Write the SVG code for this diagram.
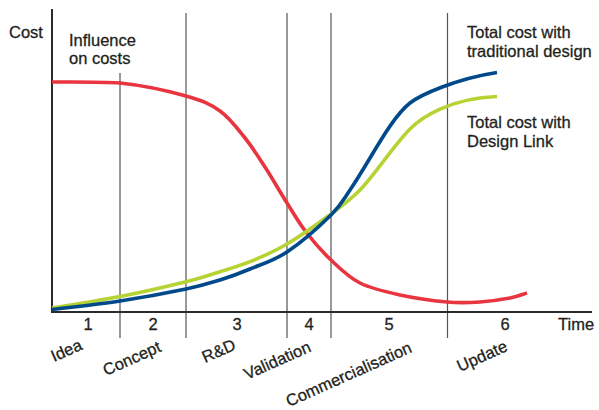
<svg xmlns="http://www.w3.org/2000/svg" width="599" height="410" viewBox="0 0 599 410">
<style>
text{font-family:"Liberation Sans",Arial,sans-serif;font-size:16.5px;fill:#231f20;stroke:#231f20;stroke-width:0.3}
.axis{stroke:#2b2b2b;stroke-width:2;fill:none}
.grid{stroke:#555;stroke-width:1.2;fill:none}
.curve{fill:none;stroke-width:3.6;stroke-linecap:butt}
.red{stroke:#e8353f}
.blue{stroke:#00498b}
.green{stroke:#b6d334}
.num{text-anchor:middle}
</style>
<rect width="599" height="410" fill="#fff"/>
<g id="grid">
<line class="grid" x1="120" y1="73" x2="120" y2="338"/>
<line class="grid" x1="186" y1="13" x2="186" y2="338"/>
<line class="grid" x1="287" y1="13" x2="287" y2="338"/>
<line class="grid" x1="331" y1="13" x2="331" y2="338"/>
<line class="grid" x1="447.5" y1="13" x2="447.5" y2="338"/>
</g>
<g id="axes">
<line class="axis" x1="52" y1="9" x2="52" y2="313"/>
<line class="axis" x1="51" y1="312" x2="592" y2="312"/>
<text x="9" y="38">Cost</text>
<text x="558" y="330">Time</text>
</g>
<g id="connectors">
<path id="influence-curve" class="curve red" d="M52,82 C63.3,82 97.7,81.5 120,83 C142.3,85.3 169.3,91.3 186,96 C202.7,100.7 210.2,104 220,111 C229.8,118 237.5,128.7 245,138 C252.5,147.3 258,156.2 265,167 C272,177.8 280.2,192.2 287,203 C293.8,213.8 298.7,222.5 306,232 C313.3,241.5 322,251.5 331,260 C340,268.5 348.5,277.2 360,283 C371.5,288.8 385.5,291.8 400,295 C414.5,298.2 433.7,300.8 447,302 C460.3,303.2 469.5,302.7 480,302 C490.5,301.3 502.2,299.5 510,298 C517.8,296.5 524.2,293.8 527,293"/>
<path id="green-curve" class="curve green" d="M52,308 C63.3,306.1 97.7,300.9 120,296.5 C142.3,292.1 169.3,285.8 186,281.7 C202.7,277.6 209.3,275 220,271.7 C230.7,268.4 238.8,266.3 250,261.7 C261.2,257.1 273.5,252 287,244 C300.5,236 318.8,223 331,214 C343.2,205 350.2,200 360,190 C374.7,175 394,145 410,129 C421,118 450,98 497,96.5"/>
<path id="blue-curve" class="curve blue" d="M52,309.5 C63.3,308.1 97.7,304.4 120,301 C142.3,297.6 169.3,292.5 186,289 C202.7,285.5 209.3,283.3 220,280 C230.7,276.7 238.8,273.7 250,269 C261.2,264.3 273.5,261 287,252 C300.5,243 320.5,225.3 331,215 C341.5,204.7 343.5,199.5 350,190 C356.5,180.5 363.3,169.2 370,158 C383.4,135.6 397,113.1 410,103 C420,95.2 455,79 497,72.5"/>
</g>
<g id="labels">
<text x="69" y="46">Influence</text>
<text x="69" y="64">on costs</text>
<text x="467" y="38">Total cost with</text>
<text x="467" y="57">traditional design</text>
<text x="467" y="128">Total cost with</text>
<text x="467" y="147">Design Link</text>
</g>
<g id="phases">
<text class="num" x="88" y="330">1</text>
<text class="num" x="153" y="330">2</text>
<text class="num" x="237" y="330">3</text>
<text class="num" x="309" y="330">4</text>
<text class="num" x="389" y="330">5</text>
<text class="num" x="505" y="330">6</text>
<text transform="translate(54,362) rotate(-24)">Idea</text>
<text transform="translate(106,376) rotate(-24)">Concept</text>
<text transform="translate(205,363) rotate(-24)">R&amp;D</text>
<text transform="translate(247,380) rotate(-24)">Validation</text>
<text transform="translate(289,407) rotate(-24)">Commercialisation</text>
<text transform="translate(460,372) rotate(-24)">Update</text>
</g>
</svg>
